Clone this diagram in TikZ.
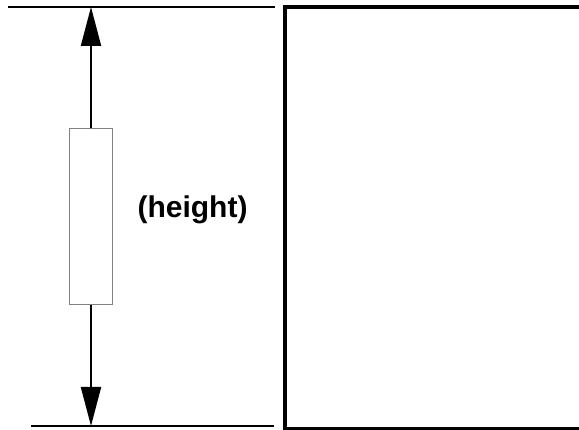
\documentclass[tikz,border=0pt]{standalone}
\usepackage{fontspec}
\setmainfont{Liberation Sans}
\usetikzlibrary{arrows.meta}
\begin{document}
\begin{tikzpicture}[x=1pt,y=-1pt,
  refline/.style={line width=1.4pt},
  dimarrow/.style={line width=2pt,-{Triangle[length=39pt,width=20pt]}},
  bar/.style={draw=black!50,line width=1pt,fill=white,minimum width=43pt,minimum height=176pt,inner sep=0pt},
  frame/.style={line width=3.6pt},
  lbl/.style={font=\bfseries\fontsize{30}{36}\selectfont,anchor=base,inner sep=0pt}]
\useasboundingbox (0,0) rectangle (579,430);
\coordinate (tl) at (8,7);
\coordinate (tr) at (275,7);
\coordinate (bl) at (31,426);
\coordinate (br) at (274,426);
\coordinate (atop) at (91,7);
\coordinate (abot) at (91,426);
\draw[refline] (tl) -- (tr);
\draw[refline,line width=2pt] (bl) -- (br);
\node[bar] (rect) at (91,217) {};
\draw[dimarrow] (rect.north) -- (atop);
\draw[dimarrow] (rect.south) -- (abot);
\node[lbl] (h) at (192.5,218) {(height)};
\coordinate (f1) at (590,7);
\coordinate (f2) at (285,7);
\coordinate (f3) at (285,428.5);
\coordinate (f4) at (590,428.5);
\draw[frame] (f1) -- (f2) -- (f3) -- (f4);
\end{tikzpicture}
\end{document}
